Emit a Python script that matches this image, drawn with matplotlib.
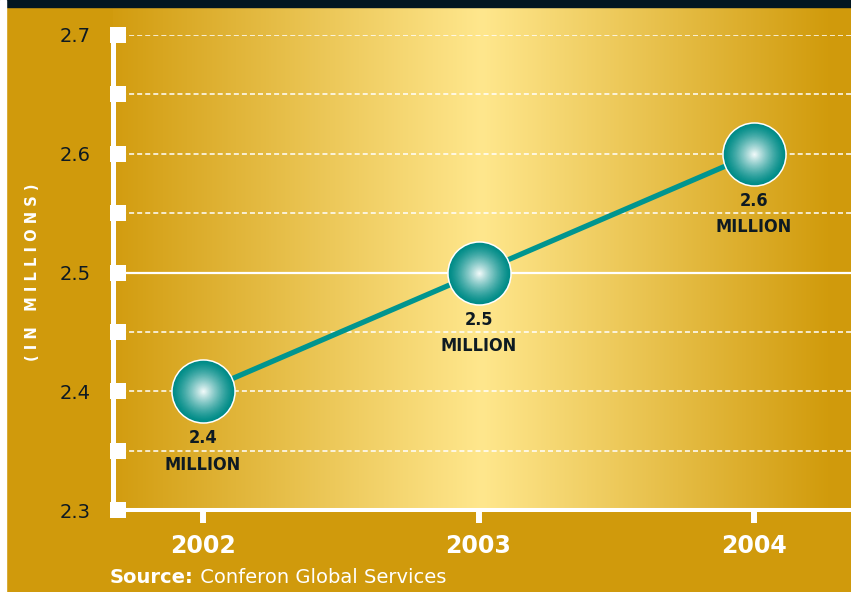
import numpy as np
import matplotlib
matplotlib.use('Agg')
import matplotlib.pyplot as plt
from matplotlib.patches import Rectangle
from matplotlib.colors import to_rgb
import matplotlib.transforms as mtrans

years = [2002, 2003, 2004]
values = [2.4, 2.5, 2.6]
point_labels = ['2.4', '2.5', '2.6']
y_ticks = [2.3, 2.4, 2.5, 2.6, 2.7]
y_ticklabels = ['2.3', '2.4', '2.5', '2.6', '2.7']
minor_levels = [2.3, 2.35, 2.4, 2.45, 2.5, 2.55, 2.6, 2.65, 2.7]
dashed_levels = [2.35, 2.4, 2.45, 2.55, 2.6, 2.65, 2.7]

plt.rcParams['lines.scale_dashes'] = False

fig = plt.figure(figsize=(8.51, 5.92), dpi=100, facecolor='#D09A0C')

fig.patches.append(Rectangle((0, 1 - 7 / 592), 1, 7 / 592, color='#021621', transform=fig.transFigure, zorder=5))
fig.patches.append(Rectangle((0, 0), 6 / 851, 1, color='white', transform=fig.transFigure, zorder=6))

# gradient panel behind the plot area (dark gold at the sides, pale yellow in the middle)
bg = fig.add_axes([113 / 851, 82 / 592, 738 / 851, 503 / 592])
bg.axis('off')
stops = [(0.0, '#D29C0F'), (0.5, '#FFE78D'), (0.97, '#D19B0C'), (1.0, '#D09A0C')]
xs = np.linspace(0, 1, 738)
sx = [s[0] for s in stops]
cols = np.array([to_rgb(s[1]) for s in stops])
grad = np.stack([np.interp(xs, sx, cols[:, k]) for k in range(3)], axis=-1)[None, :, :]
bg.imshow(grad, extent=[0, 1, 0, 1], aspect='auto')
bg.set_xlim(0, 1)
bg.set_ylim(0, 1)

ax = fig.add_axes([113 / 851, 82 / 592, 738 / 851, 475 / 592])
ax.patch.set_alpha(0)
ax.set_xlim(2001.6733, 2004.352)
ax.set_ylim(2.3, 2.7)

for s in ['top', 'right']:
    ax.spines[s].set_visible(False)
ax.spines['left'].set_color('white')
ax.spines['left'].set_linewidth(3.6)
ax.spines['bottom'].set_color('white')
ax.spines['bottom'].set_linewidth(2.9)

# grid lines
for v in dashed_levels:
    ax.axhline(v, color='white', lw=1.1, dashes=(3.6, 2.2), zorder=1)
ax.axhline(2.5, color='white', lw=1.6, zorder=1)

# square tick marks on the left axis
trans = mtrans.blended_transform_factory(ax.transAxes, ax.transData)
trans = mtrans.offset_copy(trans, fig=fig, x=5.5, y=0, units='dots')
ax.scatter([0] * len(minor_levels), minor_levels, marker='s', s=132, color='white',
           linewidths=0, transform=trans, clip_on=False, zorder=4)

ax.set_yticks(y_ticks)
ax.set_yticklabels(y_ticklabels)
ax.tick_params(axis='y', length=0, pad=16, labelsize=14, labelcolor='#0E1A22')

ax.set_xticks(years)
ax.set_xticklabels([str(y) for y in years])
ax.tick_params(axis='x', length=9, width=4.3, color='white', pad=8,
               labelsize=17, labelcolor='white')
for t in ax.get_xticklabels():
    t.set_fontweight('bold')

# line
ax.plot(years, values, color='#00958F', lw=3.8, zorder=2, solid_capstyle='butt')

# shaded spheres
teal = np.array(to_rgb('#008C88'))
white = np.array([0.97, 0.99, 0.99])
d = 45.4
ax.scatter(years, values, s=d ** 2, color=teal, edgecolors='white', linewidths=1.1, zorder=3)
n = 40
for i in range(1, n):
    f = i / n
    c = teal + (white - teal) * f ** 1.3
    ax.scatter(years, values, s=(d - 1.1) ** 2 * (1 - f) ** 2, color=c, linewidths=0, zorder=3)

for x, v, lab in zip(years, values, point_labels):
    ax.annotate(lab, (x, v), xytext=(0, -34), textcoords='offset points', ha='center', va='center',
                fontsize=13, fontweight='bold', fontstretch='condensed', color='#0E1A22',
                family='DejaVu Sans', zorder=5)
    ax.annotate('MILLION', (x, v), xytext=(0, -53), textcoords='offset points', ha='center', va='center',
                fontsize=13, fontweight='bold', fontstretch='condensed', color='#0E1A22',
                family='DejaVu Sans', zorder=5)

fig.text(33 / 851, 1 - 272 / 592, '( I N   M I L L I O N S )', rotation=90, ha='center', va='center',
         color='white', fontsize=10.5, fontweight='bold')

t1 = fig.text(110 / 851, 1 - 587 / 592, 'Source:', color='white', fontsize=14, fontweight='bold',
              va='bottom', ha='left')
ax.annotate(' Conferon Global Services', xy=(1, 0), xycoords=t1, va='bottom', ha='left',
            color='white', fontsize=14, annotation_clip=False)

fig.savefig('out.png', dpi=100, facecolor=fig.get_facecolor())
